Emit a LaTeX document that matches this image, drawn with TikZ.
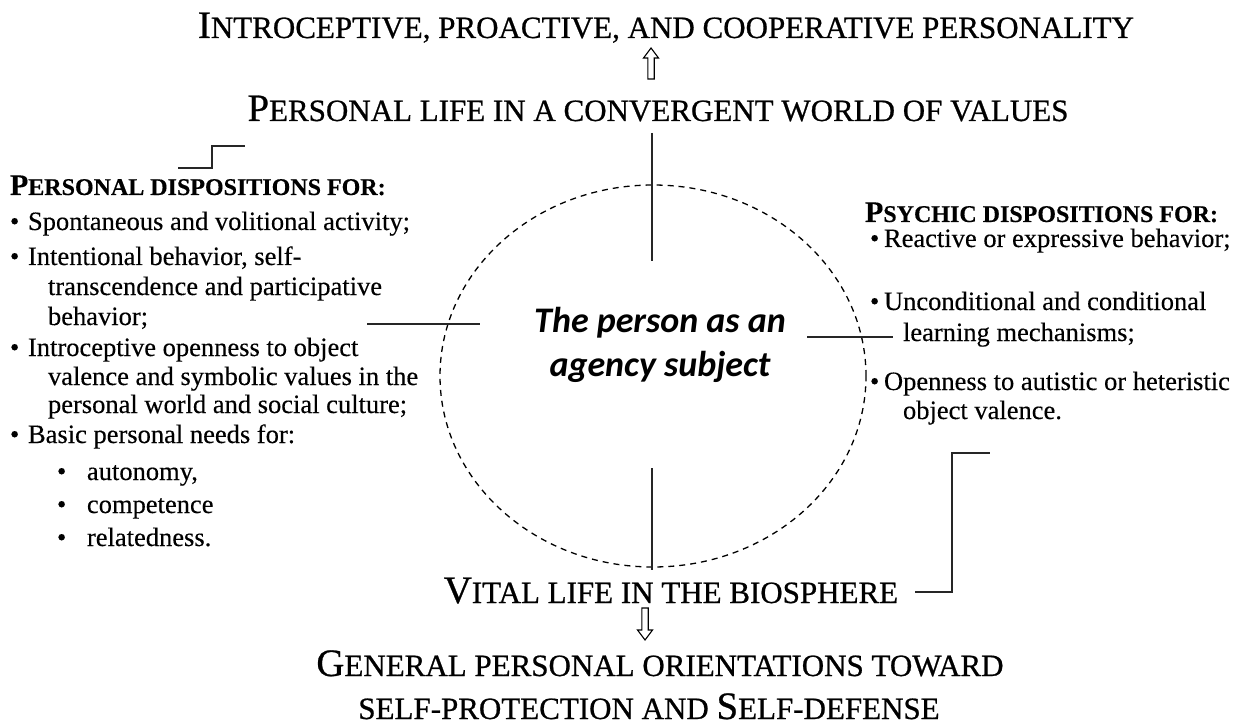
\documentclass[tikz,border=0pt]{standalone}
\usepackage{fontspec}
\usetikzlibrary{shapes.geometric}
\setmainfont[FakeBold=0.3]{Liberation Serif}
\newfontfamily\ttlfont[FakeBold=0.7]{Liberation Serif}
\newfontfamily\calfont{Carlito}
\newcommand\TB[1]{{\ttlfont\fontsize{38.8}{40}\selectfont #1}}
\newcommand\TS[1]{{\ttlfont\fontsize{31}{32}\selectfont #1}}
\newcommand\HB[1]{{\fontsize{30}{32}\selectfont\bfseries #1}}
\newcommand\HS[1]{{\fontsize{24}{26}\selectfont\bfseries #1}}
\newcommand\bul[1]{\makebox[#1][l]{\textbullet}}
\begin{document}
\begin{tikzpicture}[x=1pt,y=-1pt,
  txt/.style={inner sep=0pt, outer sep=0pt, anchor=base west, font=\fontsize{26.5}{30}\selectfont},
  ttl/.style={inner sep=0pt, outer sep=0pt, anchor=base},
  conn/.style={line width=1.8pt, black!85},
  oval/.style={line width=1.3pt, dash pattern=on 6pt off 5pt},
  hollow/.style={line width=1.1pt, line join=miter}]
\useasboundingbox (0,0) rectangle (1239,727);
% titles
\node[ttl] (t1) at (666,38) {\TB{I}\TS{NTROCEPTIVE, PROACTIVE, AND COOPERATIVE PERSONALITY}};
\node[ttl] (t2) at (658,121) {\TB{P}\TS{ERSONAL LIFE IN A CONVERGENT WORLD OF VALUES}};
\node[ttl] (t3) at (671,603) {\TB{V}\TS{ITAL LIFE IN THE BIOSPHERE}};
\node[ttl] (t4) at (660,676) {\TB{G}\TS{ENERAL PERSONAL ORIENTATIONS TOWARD}};
\node[ttl] (t5) at (649,719) {\TS{SELF-PROTECTION AND }\TB{S}\TS{ELF-DEFENSE}};
% hollow arrows
\coordinate (ua) at (651,79);
\draw[hollow] (ua) ++(-3.2,0) -- ++(0,-21) -- ++(-4.3,0) -- ++(7.5,-10) -- ++(7.5,10) -- ++(-4.3,0) -- ++(0,21) -- cycle;
\coordinate (da) at (645,608);
\draw[hollow] (da) ++(-3.2,0) -- ++(0,22) -- ++(-4.3,0) -- ++(7.5,10) -- ++(7.5,-10) -- ++(-4.3,0) -- ++(0,-22) -- cycle;
% ellipse
\node[draw, oval, ellipse, minimum width=426pt, minimum height=382pt, inner sep=0pt] (ov) at (653,376) {};
\node[inner sep=0pt, align=center, font=\calfont\bfseries\itshape\fontsize{36}{44}\selectfont] (ctr) at (660,345) {The person as an\\agency subject};
% connector lines
\coordinate (vt1) at (652,133); \coordinate (vt2) at (652,261);
\coordinate (vb1) at (652,468); \coordinate (vb2) at (652,570);
\coordinate (hl1) at (367,324); \coordinate (hl2) at (480,324);
\coordinate (hr1) at (807,337); \coordinate (hr2) at (893,337);
\draw[conn] (vt1) -- (vt2);
\draw[conn] (vb1) -- (vb2);
\draw[conn] (hl1) -- (hl2);
\draw[conn] (hr1) -- (hr2);
\coordinate (sl1) at (178,168); \coordinate (sl2) at (245,146);
\draw[conn] (sl1) -- (212,168) -- (212,146) -- (sl2);
\coordinate (sr1) at (915,592); \coordinate (sr2) at (990,453);
\draw[conn] (sr1) -- (952,592) -- (952,453) -- (sr2);
% left column
\node[txt] (lh) at (10,195) {\HB{P}\HS{ERSONAL DISPOSITIONS FOR:}};
\node[txt] (l1) at (10,230) {\bul{18pt}Spontaneous and volitional activity;};
\node[txt] (l2) at (10,265) {\bul{18pt}Intentional behavior, self-};
\node[txt] (l2b) at (48,295) {transcendence and participative};
\node[txt] (l2c) at (48,325) {behavior;};
\node[txt] (l3) at (10,356) {\bul{18pt}Introceptive openness to object};
\node[txt] (l3b) at (48,385) {valence and symbolic values in the};
\node[txt] (l3c) at (48,413) {personal world and social culture;};
\node[txt] (l4) at (10,443) {\bul{18pt}Basic personal needs for:};
\node[txt] (l4a) at (57,480) {\bul{30pt}autonomy,};
\node[txt] (l4b) at (57,513) {\bul{30pt}competence};
\node[txt] (l4c) at (57,546) {\bul{30pt}relatedness.};
% right column
\node[txt] (rh) at (865,222) {\HB{P}\HS{SYCHIC DISPOSITIONS FOR:}};
\node[txt] (r1) at (870,247) {\bul{14pt}Reactive or expressive behavior;};
\node[txt] (r2) at (870,310) {\bul{14pt}Unconditional and conditional};
\node[txt] (r2b) at (903,341) {learning mechanisms;};
\node[txt] (r3) at (870,390) {\bul{14pt}Openness to autistic or heteristic};
\node[txt] (r3b) at (903,419) {object valence.};
\end{tikzpicture}
\end{document}
